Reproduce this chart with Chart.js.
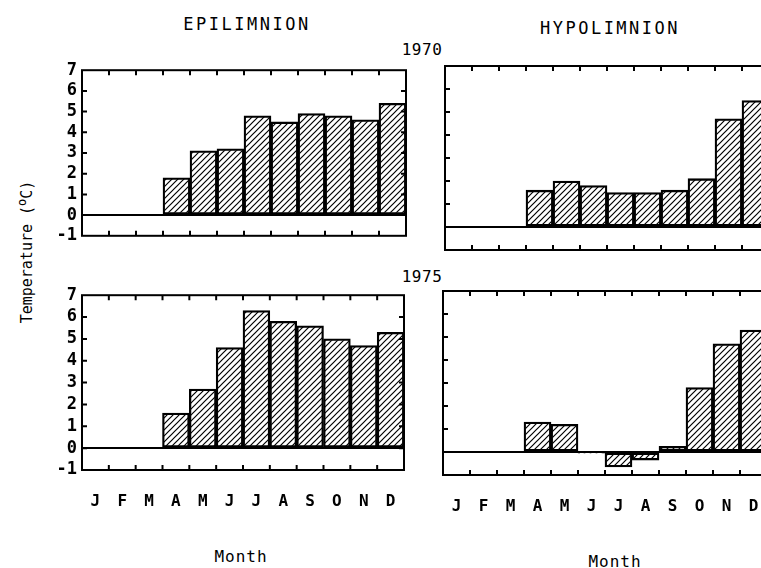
<!DOCTYPE html>
<html>
<head>
<meta charset="utf-8">
<script src="https://cdn.jsdelivr.net/npm/chart.js@4/dist/chart.umd.min.js"></script>
<style>
  html, body { margin: 0; padding: 0; background: #fff; }
  body { width: 761px; height: 568px; position: relative; overflow: hidden; font-family: "DejaVu Sans Mono", monospace; color: #000; }
  canvas { position: absolute; }
  .lbl { position: absolute; transform: translate(-50%, -50%); white-space: nowrap; }
  .title { font-size: 17px; letter-spacing: 2.5px; }
  .year { font-size: 16px; letter-spacing: 0.5px; }
  .month { font-size: 16px; letter-spacing: 1px; }
  .ylab { font-size: 15px; transform: translate(-50%, -50%) rotate(-90deg); }
  .ylab sup { font-size: 12px; }
</style>
</head>
<body>
<div class="lbl title" style="left:247px;top:24px">EPILIMNION</div>
<div class="lbl title" style="left:610px;top:28px">HYPOLIMNION</div>
<div class="lbl year" style="left:422px;top:49px">1970</div>
<div class="lbl year" style="left:422px;top:276px">1975</div>
<div class="lbl month" style="left:241px;top:556px">Month</div>
<div class="lbl month" style="left:615px;top:561px">Month</div>
<div class="lbl ylab" style="left:25px;top:252px">Temperature (<sup>o</sup>C)</div>

<canvas id="epi70"></canvas>
<canvas id="hypo70"></canvas>
<canvas id="epi75"></canvas>
<canvas id="hypo75"></canvas>

<script>
const MONTHS = ["J", "F", "M", "A", "M", "J", "J", "A", "S", "O", "N", "D"];
const EPI_1970 = [null, null, null, 1.8, 3.1, 3.2, 4.8, 4.5, 4.9, 4.8, 4.6, 5.4];
const HYPO_1970 = [null, null, null, 1.6, 2.0, 1.8, 1.5, 1.5, 1.6, 2.1, 4.7, 5.5];
const EPI_1975 = [null, null, null, 1.6, 2.7, 4.6, 6.3, 5.8, 5.6, 5.0, 4.7, 5.3];
const HYPO_1975 = [null, null, null, 1.3, 1.2, -0.05, -0.65, -0.35, 0.25, 2.8, 4.7, 5.3];
const Y_MIN = -1, Y_MAX = 7;

const PADL = 50, PADR = 6, PADT = 6;

function hatch() {
  const c = document.createElement("canvas");
  c.width = c.height = 6;
  const g = c.getContext("2d");
  g.strokeStyle = "#000";
  g.lineWidth = 1.2;
  g.beginPath();
  g.moveTo(0, 6); g.lineTo(6, 0);
  g.moveTo(-1, 1); g.lineTo(1, -1);
  g.moveTo(5, 7); g.lineTo(7, 5);
  g.stroke();
  return g.createPattern(c, "repeat");
}

// box outline + inward tick marks, like the old plotter output
const frame = {
  id: "frame",
  afterDatasetsDraw(chart) {
    const { ctx, chartArea: a, scales } = chart;
    const x = scales.x, y = scales.y;
    ctx.save();
    ctx.strokeStyle = "#000";
    ctx.lineWidth = 2;
    ctx.strokeRect(a.left, a.top, a.right - a.left, a.bottom - a.top);
    ctx.beginPath();
    for (let i = 1; i < MONTHS.length; i++) {
      const px = (x.getPixelForValue(i - 1) + x.getPixelForValue(i)) / 2;
      ctx.moveTo(px, a.top); ctx.lineTo(px, a.top + 5);
      ctx.moveTo(px, a.bottom); ctx.lineTo(px, a.bottom - 5);
    }
    for (let v = Y_MIN + 1; v < Y_MAX; v++) {
      const py = y.getPixelForValue(v);
      ctx.moveTo(a.left, py); ctx.lineTo(a.left + 5, py);
      ctx.moveTo(a.right, py); ctx.lineTo(a.right - 5, py);
    }
    ctx.stroke();
    ctx.restore();
  }
};

function panel(id, data, box, showY, showMonths) {
  const padB = showMonths ? 60 : 6;
  const cv = document.getElementById(id);
  cv.width = box.w + PADL + PADR;
  cv.height = box.h + PADT + padB;
  cv.style.left = (box.l - PADL) + "px";
  cv.style.top = (box.t - PADT) + "px";

  new Chart(cv, {
    type: "bar",
    data: {
      labels: MONTHS,
      datasets: [{
        data: data,
        backgroundColor: hatch(),
        borderColor: "#000",
        borderWidth: 1.6,
        borderSkipped: false,
        barPercentage: 1,
        categoryPercentage: 1,
      }],
    },
    options: {
      responsive: false,
      animation: false,
      layout: { padding: { top: PADT, right: PADR, left: 0, bottom: 0 } },
      plugins: { legend: { display: false }, tooltip: { enabled: false } },
      scales: {
        x: {
          afterFit: s => { s.height = padB; },
          grid: { display: false },
          border: { display: false },
          ticks: {
            display: showMonths,
            color: "#000",
            padding: 14,
            maxRotation: 0,
            autoSkip: false,
            font: { family: "DejaVu Sans Mono", size: 16, weight: "bold" },
          },
        },
        y: {
          min: Y_MIN,
          max: Y_MAX,
          afterFit: s => { s.width = PADL; },
          border: { display: false },
          grid: {
            drawTicks: false,
            lineWidth: 2,
            color: c => (c.tick && c.tick.value === 0 ? "#000" : "rgba(0,0,0,0)"),
          },
          ticks: {
            display: showY,
            stepSize: 1,
            autoSkip: false,
            color: "#000",
            padding: 5,
            font: { family: "DejaVu Sans Mono", size: 17, weight: "bold" },
          },
        },
      },
    },
    plugins: [frame],
  });
}

panel("epi70", EPI_1970, { l: 82, t: 61, w: 324, h: 184 }, true, false);
panel("hypo70", HYPO_1970, { l: 445, t: 66, w: 324, h: 184 }, false, false);
panel("epi75", EPI_1975, { l: 82, t: 286, w: 322, h: 184 }, true, true);
panel("hypo75", HYPO_1975, { l: 443, t: 291, w: 324, h: 184 }, false, true);
</script>
</body>
</html>
